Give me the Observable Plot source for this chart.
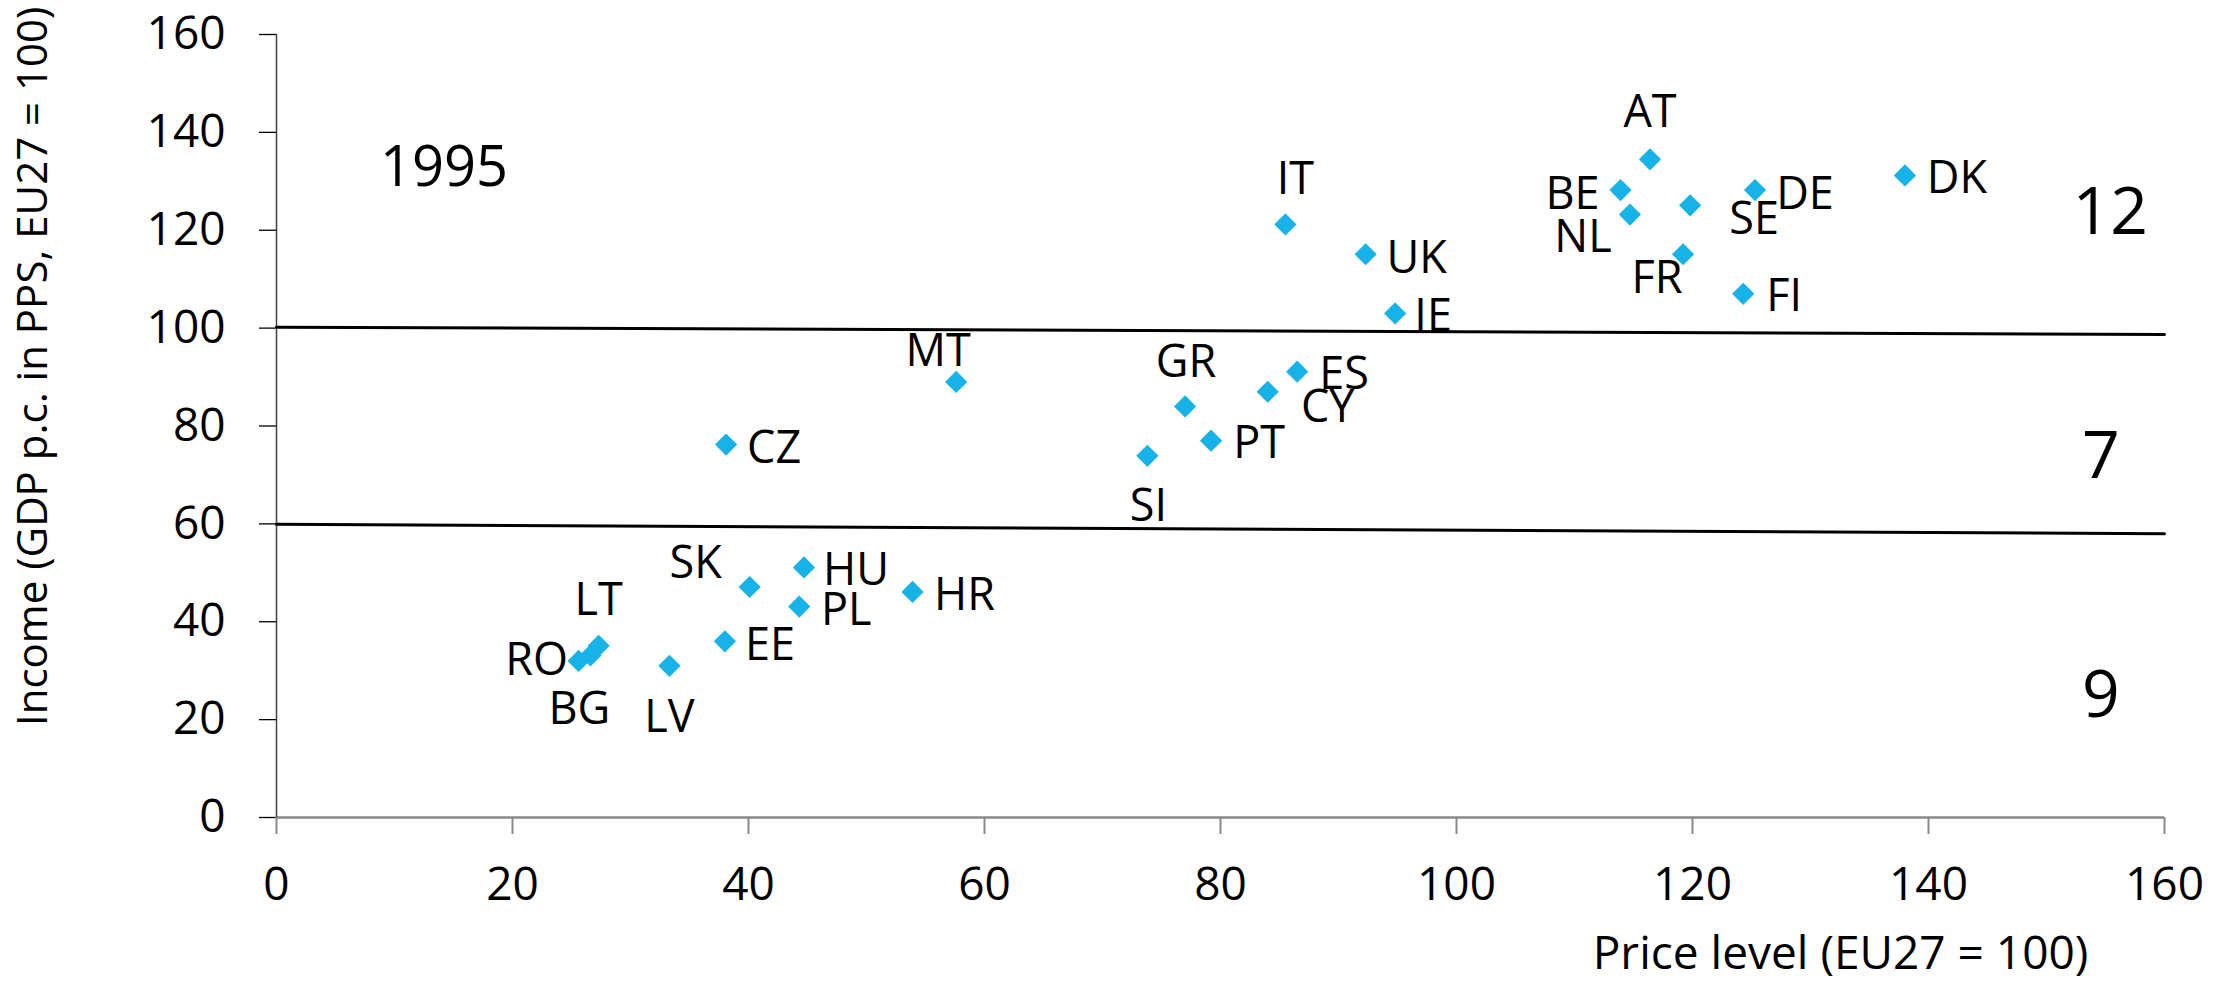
<!DOCTYPE html>
<html><head><meta charset="utf-8">
<script src="https://cdn.jsdelivr.net/npm/d3@7"></script>
<script src="https://cdn.jsdelivr.net/npm/@observablehq/plot@0.6"></script>
<style>html,body{margin:0;padding:0;background:#fff;} svg{display:block}</style>
</head><body><div id="chart"></div>
<script>
// ---- data ----
const countries  = ["AT","BE","BG","CY","CZ","DE","DK","EE","ES","FI","FR","GR","HR","HU","IE","IT","LT","LV","MT","NL","PL","PT","RO","SE","SI","SK","UK"];
const priceLevel = [116.4,113.9,26.6,84.0,38.1,125.3,138.0,38.0,86.5,124.3,119.2,77.0,53.9,44.7,94.8,85.5,27.3,33.3,57.6,114.7,44.3,79.2,25.6,119.8,73.8,40.1,92.3];
const income     = [134.5,128.2,33.1,87.0,76.2,128.2,131.2,36.0,91.1,107.0,115.1,84.0,46.1,51.1,103.0,121.2,35.1,31.0,89.0,123.2,43.1,77.0,32.0,125.1,73.9,47.1,115.1];
const xTicks = [0,20,40,60,80,100,120,140,160];
const yTicks = [0,20,40,60,80,100,120,140,160];
const bandX     = [0,160];
const upperBand = [100.2,98.7];
const lowerBand = [59.9,58.0];
const yearLabel = "1995";
const groupCounts = ["12","7","9"];
const xTitle = "Price level (EU27 = 100)";
const yTitle = "Income (GDP p.c. in PPS, EU27 = 100)";

// ---- layout (pixel offsets / annotation anchors) ----
const labelOffset = {
  AT:[0,-47], IT:[10,-45], UK:[51,4], IE:[38,3], BE:[-48,4], NL:[-47,23], SE:[64,14],
  DE:[50,4], FR:[-26,24], FI:[41,3], DK:[52,3], MT:[-18,-30], GR:[1,-44], ES:[47,3],
  CY:[60,16], PT:[48,3], SI:[1,51], CZ:[48,4], SK:[-54,-23], HU:[52,3], PL:[47,4],
  HR:[52,4], EE:[45,4], LV:[0,52], LT:[0,-45], RO:[-42,0], BG:[-11,54]
};
const countAnchors = [[155.4,123.5],[154.6,73.6],[154.6,24.9]];
const yearAnchor = [14.2,132.8];
const yTitleAnchor = [-20.6,92.2];

const points = countries.map((c,i)=>({code:c, x:priceLevel[i], y:income[i]}));
const upper = bandX.map((x,i)=>({x, y:upperBand[i]}));
const lower = bandX.map((x,i)=>({x, y:lowerBand[i]}));
const counts = groupCounts.map((t,i)=>({t, x:countAnchors[i][0], y:countAnchors[i][1]}));

const FONT = "'Open Sans', 'Noto Sans', sans-serif";

const chart = Plot.plot({
  width: 2223, height: 996,
  marginLeft: 276, marginRight: 59, marginTop: 34, marginBottom: 179,
  x: {domain:[0,160], label:null},
  y: {domain:[0,160], label:null},
  style: {fontFamily: FONT, fontSize: "46px", color: "#000", background: "#fff", overflow: "visible"},
  marks: [
    Plot.axisY({ticks: yTicks, tickSize: 17, tickPadding: 34, fontSize: 46, stroke: "#000", strokeWidth: 1.3, label: null}),
    Plot.axisX({ticks: xTicks, tickSize: 17, tickPadding: 33, fontSize: 46, stroke: "#888", strokeWidth: 2, label: null}),
    Plot.ruleY([0], {stroke: "#888", strokeWidth: 2.5}),
    Plot.ruleX([0], {stroke: "#404040", strokeWidth: 1.5}),
    Plot.line(upper, {x:"x", y:"y", stroke:"#000", strokeWidth: 3}),
    Plot.line(lower, {x:"x", y:"y", stroke:"#000", strokeWidth: 3}),
    Plot.dot(points, {x:"x", y:"y", symbol:"diamond2", r: 10, fill:"#17B3E8", stroke:"none"}),
    ...points.map(d => Plot.text([d], {x:"x", y:"y", text:"code", fontSize: 45, fill:"#000",
        dx: labelOffset[d.code][0], dy: labelOffset[d.code][1]})),
    Plot.text([yearLabel], {x: ()=>yearAnchor[0], y: ()=>yearAnchor[1], text: d=>d, fontSize: 56, fill:"#000"}),
    Plot.text(counts, {x:"x", y:"y", text:"t", fontSize: 66, fill:"#000"}),
    Plot.text([xTitle], {frameAnchor:"bottom", text: d=>d, dx: 620, dy: 151, fontSize: 46, fill:"#000"}),
    Plot.text([yTitle], {x: ()=>yTitleAnchor[0], y: ()=>yTitleAnchor[1], text: d=>d, rotate: -90, fontSize: 42, fill:"#000"})
  ]
});
document.getElementById("chart").appendChild(chart);
</script>
</body></html>
